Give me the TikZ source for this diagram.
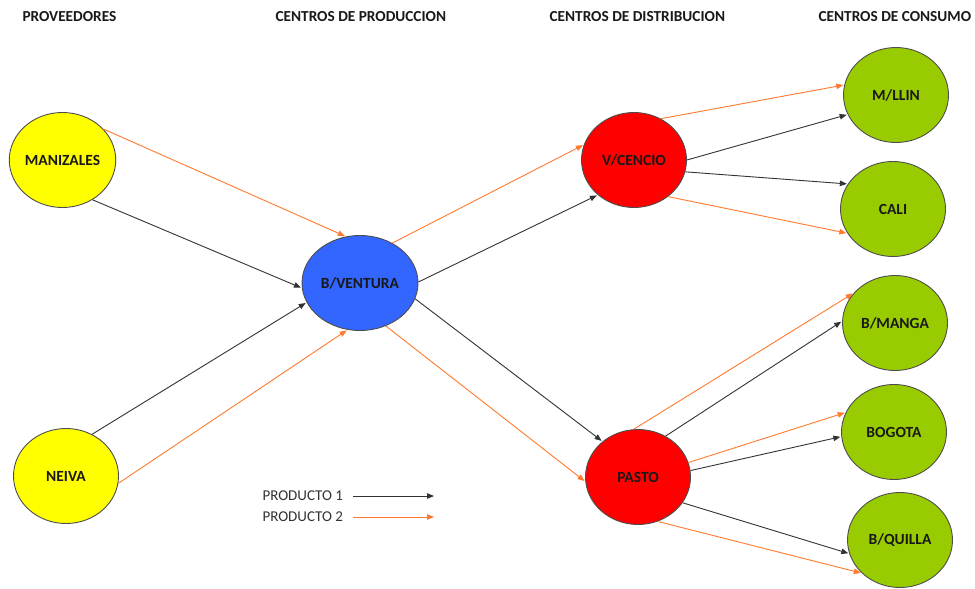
\documentclass[tikz,border=0pt]{standalone}
\usepackage{fontspec}
\setmainfont{Carlito}
\usetikzlibrary{arrows.meta,shapes.geometric}

\definecolor{provyellow}{HTML}{FFFF00}
\definecolor{prodblue}{HTML}{3366FF}
\definecolor{distred}{HTML}{FF0000}
\definecolor{consgreen}{HTML}{99CC00}
\definecolor{prodtwo}{HTML}{FF7A2E}
\definecolor{prodone}{HTML}{333333}
\definecolor{rimgray}{HTML}{4D4D4D}

\tikzset{
  site/.style={ellipse, draw=rimgray, line width=0.9pt, inner sep=0pt,
    minimum width=105pt, minimum height=95pt,
    font=\fontsize{15.5}{18}\selectfont\bfseries, text=black!90},
  heading/.style={anchor=west, font=\fontsize{15.3}{18}\selectfont\bfseries, text=black!90},
  legendtext/.style={anchor=west, font=\fontsize{15}{18}\selectfont, text=black!80},
  flowone/.style={draw=prodone, line width=0.9pt,
    -{Triangle[length=7pt,width=5.5pt]}, shorten >=1pt},
  flowtwo/.style={draw=prodtwo, line width=0.9pt,
    -{Triangle[length=7pt,width=5.5pt]}, shorten >=1pt}
}

\begin{document}
\begin{tikzpicture}[x=1pt, y=-1pt]
  \fill[white] (0,0) rectangle (975,589);
  \useasboundingbox (0,0) rectangle (975,589);

  % column headings
  \node[heading] (hprov) at (19,17) {PROVEEDORES};
  \node[heading] (hprod) at (272,17) {CENTROS DE PRODUCCION};
  \node[heading] (hdist) at (546,17) {CENTROS DE DISTRIBUCION};
  \node[heading] (hcons) at (815,17) {CENTROS DE CONSUMO};

  % suppliers
  \node[site, fill=provyellow] (mz) at (62.5,160) {MANIZALES};
  \node[site, fill=provyellow] (nv) at (66,476) {NEIVA};
  % production
  \node[site, fill=prodblue, minimum width=116pt] (bv) at (360,283) {B/VENTURA};
  % distribution
  \node[site, fill=distred] (vc) at (634,160) {V/CENCIO};
  \node[site, fill=distred] (pa) at (638,477) {PASTO};
  % consumption
  \node[site, fill=consgreen] (ml) at (896,95) {M/LLIN};
  \node[site, fill=consgreen] (ca) at (893,209) {CALI};
  \node[site, fill=consgreen] (bm) at (895,323) {B/MANGA};
  \node[site, fill=consgreen] (bg) at (894,432) {BOGOTA};
  \node[site, fill=consgreen] (bq) at (900,540) {B/QUILLA};

  % suppliers -> production
  \draw[flowtwo] (mz.37) -- (bv.107);
  \draw[flowone] (mz.-53) -- (bv.185);
  \draw[flowone] (nv.58) -- (bv.200);
  \draw[flowtwo] (nv.-8) -- (bv.255);

  % production -> distribution
  \draw[flowtwo] (bv.51) -- (vc.163);
  \draw[flowone] (bv.1) -- (vc.224);
  \draw[flowone] (bv.-16) -- (pa.135);
  \draw[flowtwo] (bv.-59) -- (pa.185);

  % distribution -> consumption
  \draw[flowtwo] (vc.57) -- (ml.169);
  \draw[flowone] (vc.0) -- (ml.202);
  \draw[flowone] (vc.-13) -- (ca.151);
  \draw[flowtwo] (vc.-47) -- (ca.208);

  \draw[flowtwo] (pa.95) -- (bm.144);
  \draw[flowone] (pa.56) -- (bm.178);
  \draw[flowtwo] (pa.16) -- (bg.158);
  \draw[flowone] (pa.7) -- (bg.185);
  \draw[flowone] (pa.-30) -- (bq.195);
  \draw[flowtwo] (pa.-66) -- (bq.221);

  % legend
  \node[legendtext] (lg1) at (259,496) {PRODUCTO 1};
  \node[legendtext] (lg2) at (259,517) {PRODUCTO 2};
  \coordinate (lg1start) at (353,496);
  \coordinate (lg1end) at (434,496);
  \coordinate (lg2start) at (353,517);
  \coordinate (lg2end) at (434,517);
  \draw[flowone, shorten >=0pt] (lg1start) -- (lg1end);
  \draw[flowtwo, shorten >=0pt] (lg2start) -- (lg2end);
\end{tikzpicture}
\end{document}
